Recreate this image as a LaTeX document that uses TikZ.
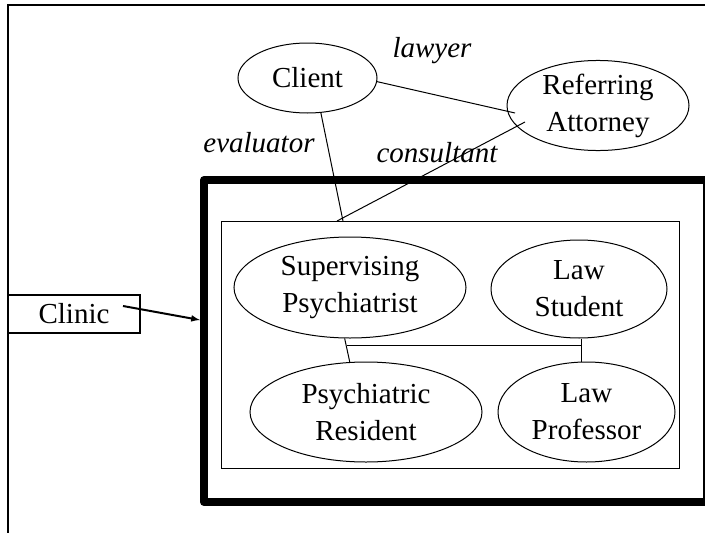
\documentclass[tikz,border=0pt]{standalone}
\usepackage{fontspec}
\setmainfont{Liberation Serif}
\usetikzlibrary{shapes.geometric}
\begin{document}
\begin{tikzpicture}[x=1pt, y=-1pt, line width=1pt,
        role/.style={draw, ellipse, inner sep=0pt, align=center, font=\fontsize{29}{37}\selectfont},
        tag/.style={font=\fontsize{29}{37}\selectfont\itshape}]
    \useasboundingbox (0,0) rectangle (705,533);
    \draw[line width=2pt] (7.5,533) |- (705,5);
    \draw[line width=8pt, line join=round] (204,180) rectangle (707,502);
    \node[draw, inner sep=0pt, minimum width=458pt, minimum height=247pt] (team) at (450,344.5) {};
    \node[role, minimum width=139pt, minimum height=70pt] (client) at (307.5,78) {Client};
    \node[role, minimum width=182pt, minimum height=85pt] (attorney) at (598,105.5) {Referring\\Attorney};
    \node[role, minimum width=232pt, minimum height=101pt] (sup) at (350,287.5) {Supervising\\Psychiatrist};
    \node[role, minimum width=176pt, minimum height=98pt] (student) at (579,289) {Law\\Student};
    \node[role, minimum width=232pt, minimum height=100pt] (resident) at (366,412) {Psychiatric\\Resident};
    \node[role, minimum width=177pt, minimum height=100pt] (professor) at (586.5,412) {Law\\Professor};
    \node[draw, line width=1.3pt, inner sep=0pt, minimum width=132pt, minimum height=38pt,
        font=\fontsize{29}{37}\selectfont] (clinic) at (74,314) {Clinic};
    \node[tag] (lawyer) at (432,51) {lawyer};
    \node[tag] (evaluator) at (259,143) {evaluator};
    \node[tag] (consultant) at (437,153) {consultant};
    \coordinate (evalend) at (343,221);
    \coordinate (consend) at (337,221);
    \coordinate (hub) at (581,345);
    \coordinate (supjoin) at (346.5,345);
    \coordinate (arrowstart) at (123,306);
    \coordinate (arrowend) at (200,320);
    \draw (client.-3) -- ([xshift=-83pt, yshift=-7.5pt]attorney.center);
    \draw (client.-69) -- (evalend);
    \draw ([xshift=-73pt, yshift=-16.5pt]attorney.center) -- (consend);
    \draw (sup.-96) -- (resident.108);
    \draw (supjoin) -- (hub);
    \draw (student.south -| hub) -- (professor.north -| hub);
    \draw[-latex, line width=2pt] (arrowstart) -- (arrowend);
\end{tikzpicture}
\end{document}
